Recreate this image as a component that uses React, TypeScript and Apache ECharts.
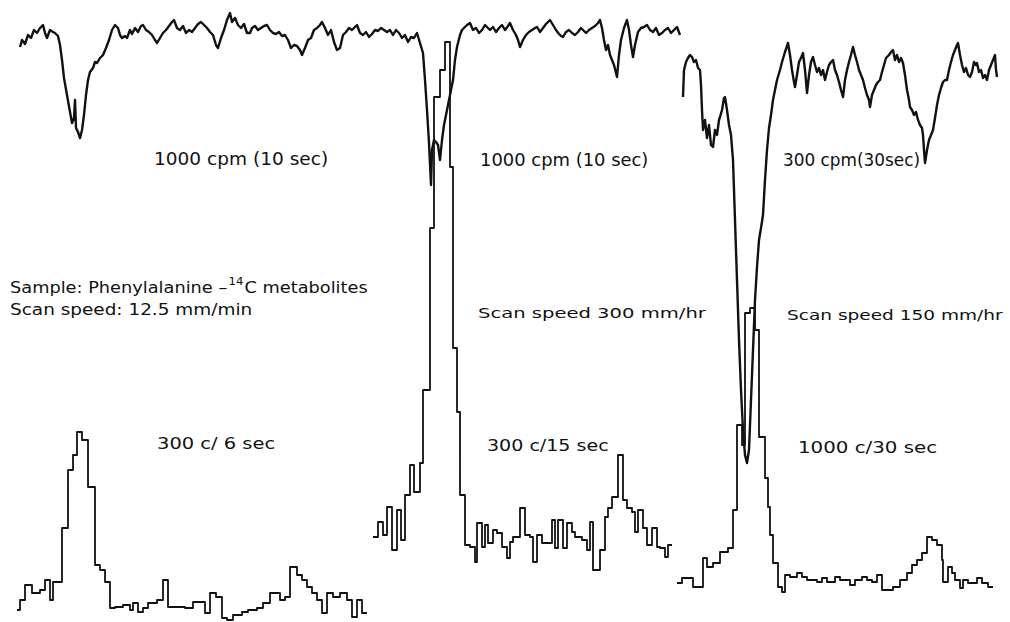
import React, { useEffect, useRef } from "react";
import * as echarts from "echarts";

// Scan positions / recorder deflections (chart units = recorder grid)
const ratemeterLeft: [number, number][] = [
  [20, 47], [22, 40], [25, 44], [28, 35], [31, 38], [34, 30], [37, 33], [40, 28], [43, 25], [45, 33], [47, 38], [50, 30],
  [53, 32], [55, 33], [58, 36], [60, 45], [62, 60], [64, 78], [67, 95], [70, 112], [72, 123], [74, 118], [75, 100], [76, 128],
  [78, 132], [80, 138], [82, 130], [84, 115], [86, 95], [88, 80], [90, 72], [93, 68], [95, 62], [97, 63], [100, 58], [103, 55],
  [106, 48], [109, 40], [112, 30], [115, 25], [118, 28], [120, 35], [122, 38], [125, 36], [127, 38], [130, 30], [132, 34],
  [135, 28], [138, 32], [141, 26], [143, 25], [146, 30], [149, 32], [152, 35], [155, 40], [157, 43], [160, 38], [163, 33],
  [166, 30], [169, 26], [172, 22], [174, 20], [177, 28], [180, 30], [183, 26], [186, 33], [189, 30], [192, 32], [195, 28],
  [198, 24], [201, 22], [204, 25], [207, 28], [210, 32], [213, 35], [216, 45], [218, 48], [221, 38], [224, 30], [227, 20],
  [230, 13], [232, 22], [235, 18], [238, 25], [241, 28], [244, 24], [247, 33], [250, 33], [252, 28], [255, 26], [258, 30],
  [261, 28], [264, 26], [267, 25], [270, 30], [273, 33], [276, 34], [279, 32], [282, 36], [285, 35], [288, 40], [291, 48],
  [294, 45], [297, 46], [300, 50], [302, 55], [305, 48], [308, 40], [311, 38], [314, 30], [317, 28], [320, 25], [322, 22],
  [325, 28], [328, 35], [331, 30], [334, 42], [337, 50], [340, 48], [343, 35], [346, 32], [349, 28], [352, 30], [355, 27],
  [357, 25], [360, 33], [363, 35], [366, 32], [369, 37], [372, 34], [375, 30], [378, 31], [381, 28], [384, 30], [387, 32],
  [390, 30], [393, 35], [396, 30], [399, 33], [402, 38], [405, 35], [408, 42], [411, 37], [414, 38], [417, 33], [420, 43],
  [423, 53], [425, 80], [427, 110], [429, 143], [431, 185], [432, 150], [434, 140], [436, 142], [438, 145], [440, 160],
  [442, 140], [444, 125], [447, 110], [450, 95], [453, 80], [455, 60], [457, 47], [460, 35], [462, 30], [465, 27], [467, 25],
  [470, 23], [473, 30], [476, 28], [479, 33], [482, 30], [485, 25], [488, 28], [490, 30], [493, 27], [496, 32], [499, 28],
  [502, 25], [505, 30], [508, 26], [510, 23], [513, 30], [516, 35], [518, 40], [520, 47], [523, 40], [526, 35], [529, 32],
  [532, 30], [535, 28], [537, 27], [540, 32], [543, 28], [546, 24], [548, 22], [550, 20], [553, 25], [556, 30], [559, 34],
  [561, 36], [563, 37], [566, 32], [569, 30], [572, 33], [575, 35], [578, 32], [581, 28], [583, 30], [586, 33], [589, 30],
  [592, 28], [595, 26], [598, 23], [600, 20], [602, 28], [604, 40], [606, 50], [608, 45], [610, 55], [612, 60], [614, 65],
  [617, 77], [619, 55], [621, 40], [624, 28], [627, 20], [629, 30], [631, 45], [633, 57], [635, 45], [638, 32], [641, 28],
  [644, 27], [647, 25], [650, 30], [653, 32], [656, 28], [659, 35], [662, 33], [665, 30], [668, 28], [671, 33], [674, 30],
  [677, 27], [680, 35],
];

const ratemeterRight: [number, number][] = [
  [683, 97], [684, 70], [686, 62], [688, 58], [690, 55], [692, 57], [694, 62], [696, 60], [698, 68], [700, 70], [701, 85],
  [702, 110], [703, 130], [705, 120], [707, 138], [709, 125], [711, 145], [713, 147], [715, 130], [717, 135], [719, 120],
  [720, 117], [722, 110], [724, 98], [725, 97], [727, 110], [729, 125], [731, 135], [733, 160], [735, 220], [737, 280],
  [739, 340], [741, 390], [743, 430], [745, 455], [747, 463], [749, 450], [751, 400], [753, 350], [755, 300], [757, 267],
  [759, 240], [761, 228], [763, 215], [765, 180], [767, 150], [769, 128], [771, 115], [773, 100], [775, 90], [777, 80],
  [780, 70], [782, 62], [785, 52], [788, 43], [790, 55], [792, 70], [794, 82], [795, 87], [797, 75], [799, 62], [801, 58],
  [803, 53], [805, 70], [807, 93], [809, 75], [811, 62], [813, 57], [815, 65], [817, 72], [819, 68], [821, 75], [823, 70],
  [825, 80], [827, 72], [829, 65], [831, 62], [833, 60], [835, 70], [837, 75], [839, 82], [841, 90], [843, 97], [845, 80],
  [847, 70], [849, 62], [851, 55], [853, 47], [855, 55], [857, 62], [859, 70], [861, 75], [863, 80], [865, 88], [867, 95],
  [869, 100], [870, 107], [872, 95], [874, 90], [876, 85], [878, 82], [880, 80], [882, 72], [884, 65], [886, 58], [889, 55],
  [891, 52], [893, 50], [895, 60], [897, 55], [899, 62], [901, 58], [903, 63], [905, 75], [907, 90], [909, 100], [910, 107],
  [912, 110], [914, 115], [916, 112], [918, 120], [920, 125], [922, 128], [923, 135], [924, 150], [925, 163], [927, 150],
  [929, 140], [931, 135], [933, 130], [935, 118], [937, 105], [939, 95], [941, 88], [943, 82], [945, 80], [947, 80],
  [949, 70], [951, 62], [953, 55], [955, 50], [957, 45], [958, 43], [960, 55], [962, 65], [964, 72], [966, 68], [968, 75],
  [970, 77], [972, 72], [974, 62], [976, 65], [977, 63], [979, 72], [981, 70], [983, 78], [985, 75], [987, 80], [989, 70],
  [991, 65], [993, 60], [995, 55], [996, 70], [997, 77],
];

// Scaler histograms: bin start positions and recorded levels
const histAEdges = [17, 20, 25, 32, 40, 45, 50, 53, 62, 68, 73, 77, 82, 88, 95, 100, 105, 110, 115, 123, 130, 133, 138, 143,
  148, 157, 163, 168, 185, 193, 205, 210, 216, 222, 227, 233, 242, 248, 257, 263, 270, 280, 285, 290, 297, 302, 307, 312, 317,
  322, 327, 333, 340, 347, 352, 357, 362, 367];
const histALevels = [610, 600, 585, 593, 590, 580, 600, 582, 528, 470, 455, 432, 440, 487, 565, 570, 582, 608, 607, 605, 610,
  603, 612, 608, 603, 600, 580, 607, 608, 602, 613, 593, 597, 618, 620, 615, 612, 610, 608, 603, 593, 600, 597, 567, 575, 580,
  587, 593, 600, 613, 593, 597, 593, 600, 617, 600, 613];

const histBEdges = [373, 378, 383, 387, 392, 397, 401, 405, 410, 414, 420, 423, 430, 434, 440, 445, 450, 453, 457, 460, 465,
  470, 475, 477, 482, 485, 488, 493, 497, 502, 507, 510, 513, 520, 525, 530, 533, 537, 542, 552, 555, 558, 563, 567, 572, 575,
  582, 587, 590, 593, 600, 605, 608, 612, 618, 623, 627, 632, 635, 638, 643, 647, 652, 657, 660, 665, 668, 672];
const histBLevels = [537, 522, 535, 507, 550, 510, 540, 495, 465, 492, 463, 390, 228, 97, 70, 42, 167, 348, 412, 495, 545,
  547, 562, 523, 547, 525, 543, 530, 533, 547, 558, 542, 537, 508, 535, 537, 562, 535, 543, 520, 548, 520, 548, 523, 532, 537,
  540, 550, 522, 570, 550, 517, 508, 497, 455, 500, 508, 512, 532, 510, 528, 545, 528, 547, 548, 557, 545];

const histCEdges = [677, 682, 693, 703, 707, 713, 720, 728, 733, 737, 742, 745, 750, 755, 759, 765, 768, 770, 773, 778, 782,
  785, 790, 797, 802, 807, 817, 822, 827, 835, 840, 850, 855, 862, 867, 872, 877, 882, 893, 900, 907, 912, 917, 922, 927, 932,
  937, 942, 943, 948, 952, 955, 960, 963, 968, 977, 982, 988, 993];
const histCLevels = [583, 578, 587, 558, 567, 563, 552, 548, 510, 425, 445, 313, 308, 330, 437, 478, 507, 535, 563, 587, 592,
  575, 577, 573, 577, 580, 582, 578, 582, 577, 580, 585, 580, 577, 580, 582, 575, 590, 587, 580, 573, 565, 560, 553, 537, 540,
  545, 560, 582, 567, 573, 580, 588, 580, 583, 578, 583, 587];

// Annotation texts
const labelTexts = [
  "1000 cpm (10 sec)",
  "1000 cpm (10 sec)",
  "300 cpm(30sec)",
  "Scan speed: 12.5 mm/min",
  "Scan speed 300 mm/hr",
  "Scan speed 150 mm/hr",
  "300 c/ 6 sec",
  "300 c/15 sec",
  "1000 c/30 sec",
];
const sampleText = ["Sample: Phenylalanine –", "14", "C metabolites"];

// Layout of the annotations (x, y centre, font size, horizontal stretch)
const labelLayout = [
  { x: 154, y: 159, size: 18, sx: 1.03 },
  { x: 480, y: 160, size: 17.4, sx: 1.03 },
  { x: 783, y: 160, size: 17.4, sx: 0.97 },
  { x: 10, y: 310, size: 15, sx: 1.23 },
  { x: 478, y: 313, size: 14.5, sx: 1.35 },
  { x: 787, y: 315, size: 14.7, sx: 1.26 },
  { x: 157, y: 443, size: 16.5, sx: 1.18 },
  { x: 487, y: 446, size: 16, sx: 1.19 },
  { x: 798, y: 447, size: 16.5, sx: 1.2 },
];

function stepData(edges: number[], levels: number[]): [number, number][] {
  const pts: [number, number][] = levels.map((v, i) => [edges[i], v]);
  pts.push([edges[edges.length - 1], levels[levels.length - 1]]);
  return pts;
}

const INK = "#111";
const FONT = "DejaVu Sans";

export default function App() {
  const ref = useRef<HTMLDivElement>(null);
  useEffect(() => {
    if (!ref.current) return;
    const chart = echarts.init(ref.current, undefined, { renderer: "svg" });
    const lineSeries = (data: [number, number][], width: number, step?: "end") => ({
      type: "line",
      data,
      step: step || false,
      showSymbol: false,
      symbol: "none",
      lineStyle: { color: INK, width, join: "round" },
      silent: true,
    });
    chart.setOption({
      animation: false,
      backgroundColor: "#fff",
      grid: { left: 0, right: 0, top: 0, bottom: 0 },
      xAxis: { type: "value", min: 0, max: 1010, show: false },
      yAxis: { type: "value", min: 0, max: 622, inverse: true, show: false },
      series: [
        lineSeries(ratemeterLeft, 2.4),
        lineSeries(ratemeterRight, 2.4),
        lineSeries(stepData(histAEdges, histALevels), 1.8, "end"),
        lineSeries(stepData(histBEdges, histBLevels), 1.8, "end"),
        lineSeries(stepData(histCEdges, histCLevels), 1.8, "end"),
      ],
      graphic: [
        ...labelTexts.map((t, i) => ({
          type: "text",
          x: labelLayout[i].x,
          y: labelLayout[i].y,
          scaleX: labelLayout[i].sx,
          style: {
            text: t,
            fill: INK,
            font: `${labelLayout[i].size}px "${FONT}"`,
            verticalAlign: "middle",
            align: "left",
          },
        })),
        {
          type: "text",
          x: 10,
          y: 286,
          scaleX: 1.11,
          style: {
            text: `{a|${sampleText[0]}}{s|${sampleText[1]}}{a|${sampleText[2]}}`,
            verticalAlign: "middle",
            align: "left",
            rich: {
              a: { fontSize: 16, fontFamily: FONT, fill: INK, color: INK, verticalAlign: "bottom" },
              s: { fontSize: 10.5, fontFamily: FONT, fill: INK, color: INK, verticalAlign: "top", padding: [0, 1, 8, 1] },
            },
          },
        },
      ],
    });
    return () => chart.dispose();
  }, []);
  return (
    <div
      ref={ref}
      style={{ position: "absolute", left: 0, top: 0, width: 1010, height: 622, background: "#fff" }}
    />
  );
}
